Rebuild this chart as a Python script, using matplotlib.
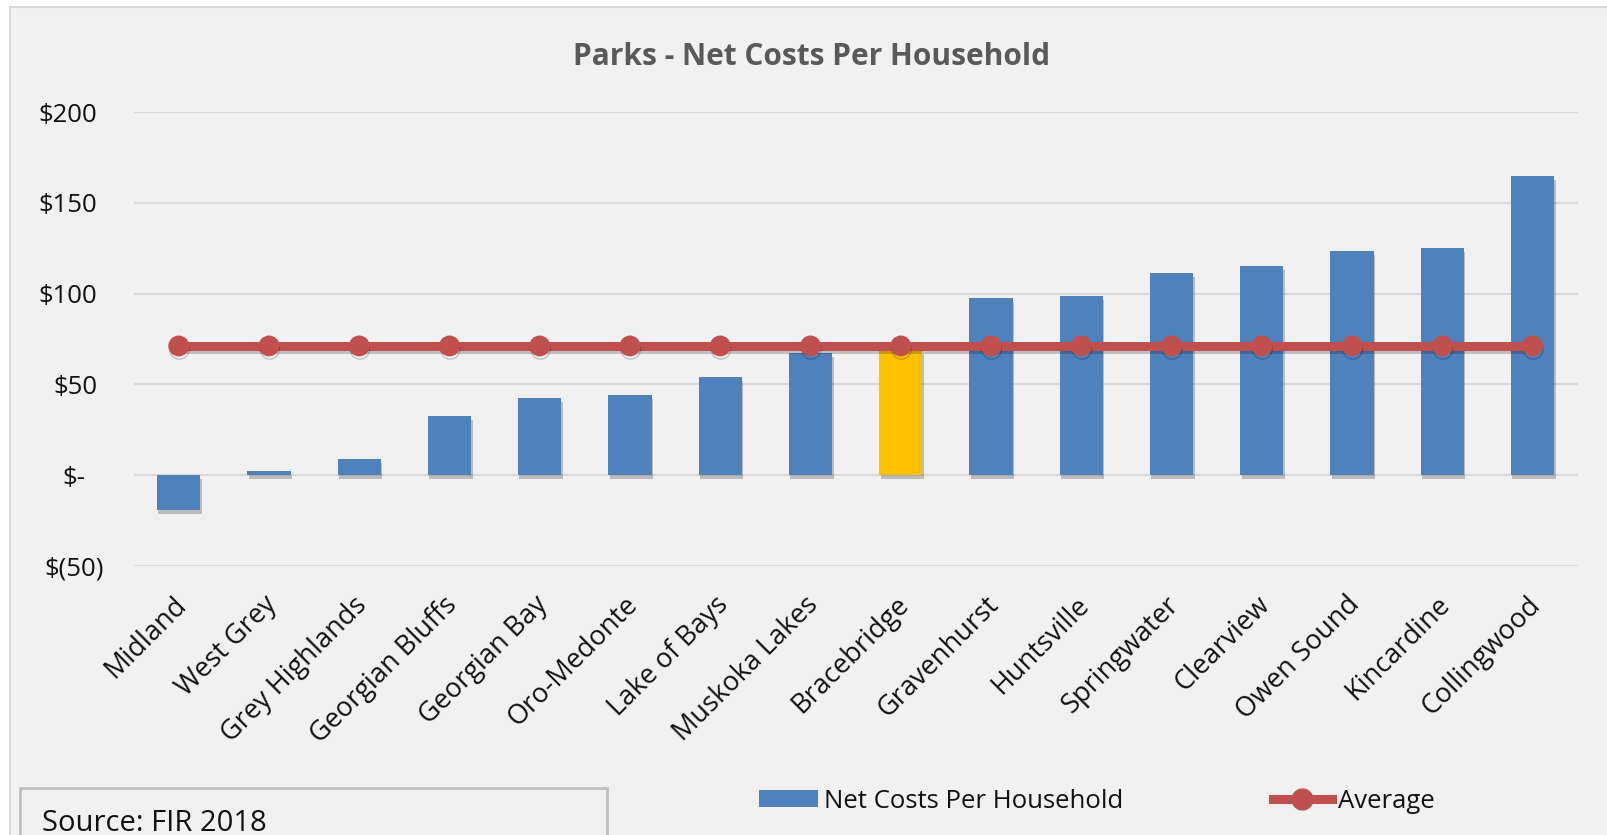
import numpy as np
import matplotlib
matplotlib.use("Agg")
import matplotlib.pyplot as plt
import matplotlib.patheffects as pe
from matplotlib.patches import Rectangle, Patch
from matplotlib.lines import Line2D
from matplotlib.transforms import ScaledTranslation

# ------------------------------
# data
# ------------------------------
towns = ["Midland", "West Grey", "Grey Highlands", "Georgian Bluffs", "Georgian Bay",
         "Oro-Medonte", "Lake of Bays", "Muskoka Lakes", "Bracebridge", "Gravenhurst",
         "Huntsville", "Springwater", "Clearview", "Owen Sound", "Kincardine", "Collingwood"]
net_cost = [-19.0, 2.4, 8.8, 32.6, 42.7, 44.0, 54.2, 67.4, 69.0, 97.6,
            98.5, 111.6, 115.4, 123.6, 125.1, 164.8]
highlight = "Bracebridge"
y_ticks = [-50, 0, 50, 100, 150, 200]
y_labels = ["$(50)", "$-", "$50", "$100", "$150", "$200"]

average = np.mean(net_cost)

BLUE = "#4f81bd"
GOLD = "#ffc000"
RED = "#c0504d"
BG = "#f1f1f1"
GRID = "#d9d9d9"
TXT = "#111111"

plt.rcParams["font.family"] = ["Open Sans", "DejaVu Sans"]

W, H = 1608, 835
fig = plt.figure(figsize=(W / 100, H / 100), dpi=100)
fig.patch.set_facecolor("white")

# chart area panel
fig.patches.append(Rectangle((10 / W, -0.05), 1.0, 1.05 - 7 / H, transform=fig.transFigure,
                             facecolor=BG, edgecolor=GRID, linewidth=1.5, zorder=-5))

ax = fig.add_axes([133.6 / W, 1 - 566 / H, (1577.7 - 133.6) / W, (566 - 112) / H])
ax.set_facecolor("none")

x = np.arange(len(towns))
colors = [GOLD if t == highlight else BLUE for t in towns]
bars = ax.bar(x, net_cost, width=0.48, color=colors, zorder=2)
for b in bars:
    b.set_path_effects([pe.SimplePatchShadow(offset=(1, -3), shadow_rgbFace="black", alpha=0.22),
                        pe.Normal()])

ax.plot(x, np.full(len(towns), average), color=RED, linewidth=6.5,
        marker="o", markersize=14, markerfacecolor=RED, markeredgecolor=RED, zorder=3,
        path_effects=[pe.SimpleLineShadow(offset=(0.5, -2.5), shadow_color="black", alpha=0.2),
                      pe.Normal()])

ax.set_xlim(-0.5, len(towns) - 0.5)
ax.set_ylim(-50, 200)
ax.set_yticks(y_ticks)
ax.set_yticklabels(y_labels)
ax.set_xticks(x)
ax.set_xticklabels(towns, rotation=45, ha="right", rotation_mode="anchor")
ax.grid(axis="y", color=GRID, linewidth=1.5, zorder=0)
ax.set_axisbelow(True)
for s in ax.spines.values():
    s.set_visible(False)
ax.tick_params(axis="both", length=0, labelsize=18.5, labelcolor=TXT)
ax.tick_params(axis="y", pad=26)
ax.tick_params(axis="x", pad=18, labelsize=19.5)

# accounting-style alignment of the y labels
nudges = {"$(50)": 6.5, "$-": -12.5}
for lab in ax.get_yticklabels():
    dx = nudges.get(lab.get_text(), 0)
    lab.set_transform(lab.get_transform() + ScaledTranslation(dx / 100, 0, fig.dpi_scale_trans))
for lab in ax.get_xticklabels():
    lab.set_transform(lab.get_transform() + ScaledTranslation(-6 / 100, 0, fig.dpi_scale_trans))

fig.text(812 / W, 1 - 65 / H, "Parks - Net Costs Per Household", ha="center", va="baseline",
         fontsize=21.5, fontweight="bold", color="#595959")

# legend
handles = [Patch(facecolor=BLUE, edgecolor="none", label="Net Costs Per Household"),
           Line2D([], [], color=RED, linewidth=6.5, marker="o", markersize=15,
                  markerfacecolor=RED, markeredgecolor=RED, label="Average")]
fig.legend(handles=handles, loc="center", bbox_to_anchor=(1097 / W, 1 - 801 / H),
           ncol=2, frameon=False, fontsize=18.5, handlelength=2.3, handleheight=0.68,
           handletextpad=0.25, columnspacing=5.8, labelcolor=TXT)

# source note
fig.patches.append(Rectangle((20 / W, -0.05), (607 - 20) / W, 0.05 + 1 - 788 / H,
                             transform=fig.transFigure, facecolor=BG, edgecolor="#bfbfbf",
                             linewidth=2, zorder=1))
fig.text(42 / W, 1 - 831 / H, "Source: FIR 2018", ha="left", va="baseline",
         fontsize=21, color=TXT)

fig.savefig("out.png", dpi=100, facecolor=fig.get_facecolor())
